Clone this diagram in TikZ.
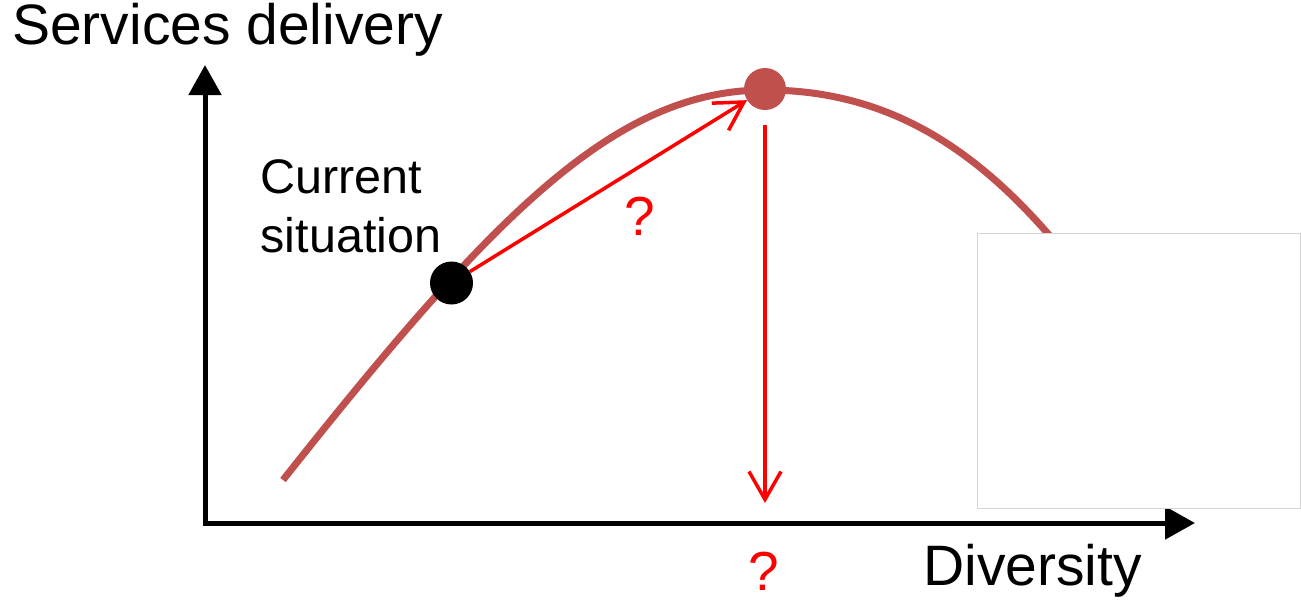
\documentclass[tikz,border=0pt]{standalone}
\usepackage{fontspec}
\setmainfont{Liberation Sans}
\usetikzlibrary{arrows.meta}
\definecolor{curvered}{RGB}{192,80,77}
\definecolor{boxgray}{RGB}{212,212,212}
\begin{document}
\begin{tikzpicture}[x=1pt,y=-1pt,
  axis/.style={line width=5pt,-{Triangle[length=30pt,width=32pt]}},
  curveline/.style={line width=7pt,draw=curvered},
  redarrow/.style={line width=3.5pt,draw=red,-{Straight Barb[length=28pt,width=32pt]}},
  dot/.style={circle,inner sep=0pt,minimum size=#1},
  bigtext/.style={inner sep=0pt,anchor=base west,font=\fontsize{57}{68}\selectfont},
  midtext/.style={inner sep=0pt,anchor=base west,align=left,font=\fontsize{48.5}{59}\selectfont},
  qmark/.style={inner sep=0pt,anchor=base,text=red,font=\fontsize{55}{66}\selectfont},
  blank/.style={draw=boxgray,fill=white,line width=1pt,inner sep=0pt,anchor=north west}]
\useasboundingbox (0,0) rectangle (1301,603);
% axes
\coordinate (origin) at (205,523);
\coordinate (ytip) at (205,65);
\coordinate (xtip) at (1195,523);
\draw[axis] ([yshift=-2.5pt]origin) -- (ytip);
\draw[axis] ([xshift=-2.5pt]origin) -- (xtip);
% curve
\draw[curveline] (283,480) .. controls (493,215) and (615,90) .. (765,90)
  .. controls (900,90) and (1000,160) .. (1100,300);
% blank box
\node[blank,minimum width=323pt,minimum height=275pt] (box) at (977,233) {};
% dots
\node[dot=43pt,fill=black] (cur) at (451.5,283) {};
\node[dot=42pt,fill=curvered] (peak) at (765,89) {};
% arrows
\coordinate (droptip) at (765,503);
\draw[redarrow] (cur) -- (peak);
\draw[redarrow] ([yshift=-15pt]peak.south) -- (droptip);
% labels
\node[bigtext] (ylabel) at (12,44) {Services delivery};
\node[bigtext] (xlabel) at (923,585) {Diversity};
\node[midtext] (curlabel) at (260.5,252) {Current\\situation};
\node[qmark] (q1) at (640,235) {?};
\node[qmark] (q2) at (764,590) {?};
\end{tikzpicture}
\end{document}
